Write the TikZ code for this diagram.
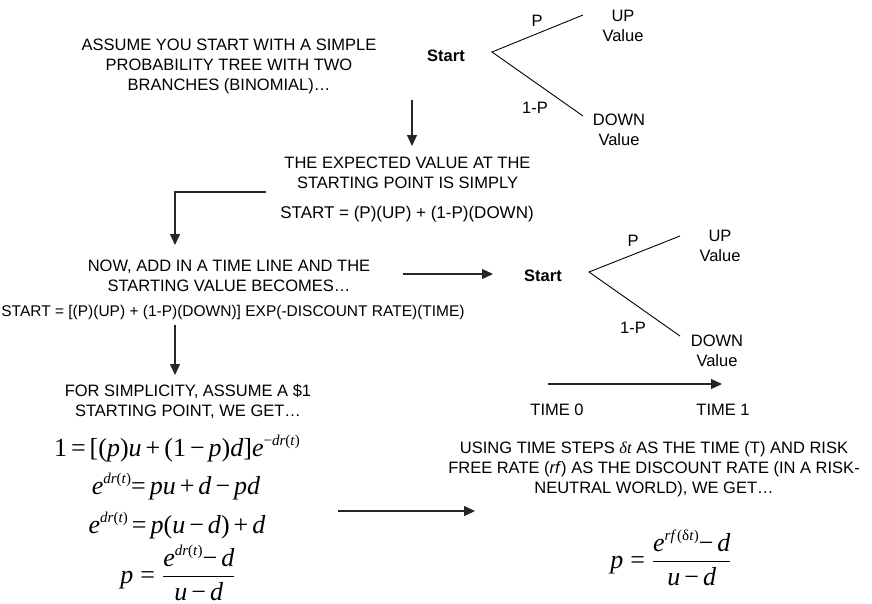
\documentclass[tikz,border=0pt]{standalone}
\usepackage{fontspec}
\setmainfont{Liberation Sans}
\newfontfamily\tmsf{Liberation Serif}
\usetikzlibrary{arrows.meta}
\newcommand\eqfont{\tmsf\fontsize{26}{30}\selectfont}
\newcommand\vi[1]{\textit{#1}}
\newcommand\upscr[1]{\raisebox{11pt}{\fontsize{15}{15}\selectfont #1}}
\newcommand\gp{\hspace{4pt}}
\newcommand\wgp{\hspace{7pt}}
\newcommand\mfrac[2]{$\displaystyle{\hbox{#1}\above 1pt\hbox{#2}}$}
\tikzset{
  txt/.style={font=\fontsize{16.5}{20}\selectfont, align=center, inner sep=0pt, anchor=base},
  lbl/.style={font=\fontsize{16.5}{20}\selectfont, align=center, inner sep=0pt, anchor=base},
  eqn/.style={font=\eqfont, inner sep=0pt, anchor=base},
  flow/.style={draw=black!85, line width=1.1pt, -{Triangle[length=11pt,width=10pt]}},
  branch/.style={draw=black, line width=0.9pt},
}
\begin{document}
\begin{tikzpicture}[x=1pt,y=-1pt]
\useasboundingbox (0,0) rectangle (872,603);

% ---- texts on the left (anchor = baseline of the last line)
\node[txt] (t1) at (229,90) {ASSUME YOU START WITH A SIMPLE\\PROBABILITY TREE WITH TWO\\BRANCHES (BINOMIAL)…};
\node[txt] (t2) at (407.5,188) {THE EXPECTED VALUE AT THE\\STARTING POINT IS SIMPLY};
\node[txt, font=\fontsize{17}{20}\selectfont] (e0) at (407,218) {START = (P)(UP) + (1-P)(DOWN)};
\node[txt] (t3) at (229,291) {NOW, ADD IN A TIME LINE AND THE\\STARTING VALUE BECOMES…};
\node[txt, font=\fontsize{15.5}{20}\selectfont] (e1) at (233,316) {START = [(P)(UP) + (1-P)(DOWN)] EXP(-DISCOUNT RATE)(TIME)};
\node[txt] (t4) at (188,416) {FOR SIMPLICITY, ASSUME A \$1\\STARTING POINT, WE GET…};

% ---- equations
\node[eqn] (eqa) at (177,456) {1\gp=\gp[(\vi{p})\vi{u}\gp+\gp(1\gp−\gp\vi{p})\vi{d}]\vi{e}\upscr{−\vi{dr}(\vi{t})}};
\node[eqn] (eqb) at (176,494) {\vi{e}\upscr{\vi{dr}(\vi{t})}=\gp\vi{pu}\gp+\gp\vi{d}\gp−\gp\vi{pd}};
\node[eqn] (eqc) at (177,533) {\vi{e}\upscr{\vi{dr}(\vi{t})}\gp=\gp\vi{p}(\vi{u}\gp−\gp\vi{d})\gp+\gp\vi{d}};
\node[eqn] (eqd) at (178,583) {\vi{p}\wgp=\wgp\mfrac{\vi{e}\upscr{\vi{dr}(\vi{t})}−\gp\vi{d}}{\vi{u}\gp−\gp\vi{d}}};

% ---- right text and result
\node[txt] (t5) at (654,493) {USING TIME STEPS {\tmsf\itshape δt} AS THE TIME (T) AND RISK\\FREE RATE (\textit{rf}) AS THE DISCOUNT RATE (IN A RISK-\\NEUTRAL WORLD), WE GET…};
\node[eqn] (eqe) at (671,568) {\vi{p}\wgp=\wgp\mfrac{\vi{e}\upscr{\vi{rf\,}(δ\vi{t})}−\gp\vi{d}}{\vi{u}\gp−\gp\vi{d}}};

% ---- tree 1
\node[lbl, font=\bfseries\fontsize{16.5}{20}\selectfont] (s1) at (446,61) {Start};
\coordinate (r1) at (492,52);
\coordinate (u1) at (583,15);
\coordinate (d1) at (583,116);
\draw[branch] (u1) -- (r1) -- (d1);
\node[lbl] (p1) at (537,26) {P};
\node[lbl] (q1) at (535,113) {1-P};
\node[lbl] (up1) at (623,41) {UP\\Value};
\node[lbl] (dn1) at (619,145) {DOWN\\Value};

% ---- tree 2
\node[lbl, font=\bfseries\fontsize{16.5}{20}\selectfont] (s2) at (543,281) {Start};
\coordinate (r2) at (589,272);
\coordinate (u2) at (680,236);
\coordinate (d2) at (680,336);
\draw[branch] (u2) -- (r2) -- (d2);
\node[lbl] (p2) at (633,246) {P};
\node[lbl] (q2) at (633,333) {1-P};
\node[lbl] (up2) at (720,261) {UP\\Value};
\node[lbl] (dn2) at (717,366) {DOWN\\Value};

% ---- time line
\coordinate (tl0) at (548,384);
\coordinate (tl1) at (722,384);
\draw[flow] (tl0) -- (tl1);
\node[lbl] (time0) at (557,415) {TIME 0};
\node[lbl] (time1) at (723,415) {TIME 1};

% ---- flow arrows
\coordinate (a1s) at (412,100); \coordinate (a1e) at (412,146);
\draw[flow] (a1s) -- (a1e);
\coordinate (a2s) at (266,192); \coordinate (a2e) at (175,245);
\draw[flow] (a2s) -| (a2e);
\coordinate (a3s) at (175,325); \coordinate (a3e) at (175,375);
\draw[flow] (a3s) -- (a3e);
\coordinate (a4s) at (403,274); \coordinate (a4e) at (493,274);
\draw[flow] (a4s) -- (a4e);
\coordinate (a5s) at (338,511); \coordinate (a5e) at (475,511);
\draw[flow] (a5s) -- (a5e);
\end{tikzpicture}
\end{document}
